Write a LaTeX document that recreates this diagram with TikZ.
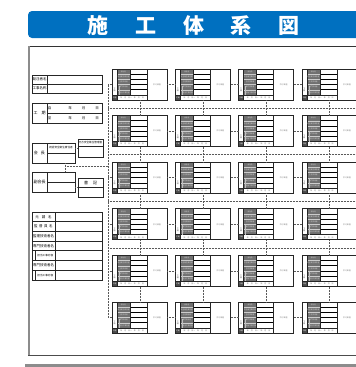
\documentclass[tikz,border=0pt]{standalone}
\usepackage{fontspec}
\newfontfamily\jp{Noto Sans CJK JP}
\usetikzlibrary{calc, positioning}
\definecolor{bannerblue}{RGB}{0,112,192}
\definecolor{cellgray}{RGB}{112,112,112}

\tikzset{
  boxline/.style={draw=black!85, line width=0.75pt},
  unitline/.style={draw=black!85, line width=0.65pt},
  rowline/.style={draw=black, line width=0.85pt},
  link/.style={draw=black!65, line width=0.5pt, dash pattern=on 0.6pt off 0.9pt},
  lbl/.style={font=\jp\fontsize{3.5}{3.5}\selectfont, inner sep=0pt},
  biglbl/.style={font=\jp\fontsize{4}{4}\selectfont, inner sep=0pt},
  smalllbl/.style={font=\jp\fontsize{2.6}{2.6}\selectfont, inner sep=0pt},
  celltext/.style={font=\jp\fontsize{1.7}{1.7}\selectfont, text=white!85!black, inner sep=0pt},
  tinytext/.style={font=\jp\fontsize{1.9}{1.9}\selectfont, text=black!60, inner sep=0pt},
  unitnode/.style={minimum width=55pt, minimum height=31pt, inner sep=0pt},
  titletext/.style={font=\jp\bfseries\fontsize{21}{21}\selectfont, text=white, inner sep=0pt},
}

\begin{document}
\begin{tikzpicture}[x=1pt, y=-1pt]
\useasboundingbox (0,0) rectangle (356,367);
\clip (0,0) rectangle (356,367);

% Title banner
\fill[bannerblue, rounded corners=4pt] (28,11) rectangle (390,38);
\node[titletext] (title) at (193.7,25.3)
  {施\hspace{26.7pt}工\hspace{26.7pt}体\hspace{26.7pt}系\hspace{26.7pt}図};

% Outer frame
\draw[line width=0.8pt, black!80] (28,46.5) -- (390,46.5);
\draw[line width=0.9pt, black!70] (28,355) -- (390,355);
\draw[line width=2.2pt, black!45] (28.6,46) -- (28.6,355.4);
\fill[black!45] (25,363.5) rectangle (390,368);

% Project header
\draw[boxline] (32,75) rectangle (102,93);
\draw[boxline] (32,84) -- (102,84) (47,75) -- (47,93);
\node[lbl] (ordername) at (39.5,79.5) {発注者名};
\node[lbl] (worksname) at (39.5,88.5) {工事名称};

% Term
\draw[boxline] (32,103) rectangle (102,123);
\draw[boxline] (47,113) -- (102,113) (47,103) -- (47,123);
\node[biglbl] (termlbl) at (39.5,113) {工\hspace{4pt}期};
\foreach \yy/\ch in {108/自, 118/至}{
  \node[lbl] (d\yy) at (49.5,\yy) {\ch};
  \node[lbl] (y\yy) at (70,\yy) {年};
  \node[lbl] (m\yy) at (83.5,\yy) {月};
  \node[lbl] (e\yy) at (97,\yy) {日};
}

% Council boxes
\draw[boxline] (32,143) rectangle (75,163);
\draw[boxline] (47,153) -- (75,153) (47,143) -- (47,163);
\node[biglbl] (chairlbl) at (39.5,153) {会\hspace{3pt}長};
\node[smalllbl] (chairrole) at (61,148) {統括安全衛生責任者};
\node[inner sep=0pt, minimum width=43pt, minimum height=20pt] (chair) at (53.5,153) {};

\draw[boxline] (78,139) rectangle (103,157);
\draw[boxline] (78,146) -- (103,146);
\node[smalllbl] (managerlbl) at (90.5,142.5) {元方安全衛生管理者};
\node[inner sep=0pt, minimum width=25pt, minimum height=18pt] (manager) at (90.5,148) {};

\draw[boxline] (32,172) rectangle (75,192);
\draw[boxline] (47,182) -- (75,182) (47,172) -- (47,192);
\node[biglbl] (vicelbl) at (39.5,182) {副会長};
\node[inner sep=0pt, minimum width=43pt, minimum height=20pt] (vice) at (53.5,182) {};

\draw[boxline] (78,178) rectangle (103,197);
\draw[boxline] (78,187) -- (103,187);
\node[biglbl] (clerklbl) at (90.5,182.5) {書\hspace{5pt}記};
\node[inner sep=0pt, minimum width=25pt, minimum height=19pt] (clerk) at (90.5,187.5) {};

% Prime contractor table
\draw[boxline] (32,212) rectangle (102,280);
\foreach \k in {1,...,6}
  \draw[boxline] (32,{212+9.714*\k}) -- (102,{212+9.714*\k});
\draw[boxline] (55,212) -- (55,280);
\foreach \t [count=\k] in {元\hspace{3pt}請\hspace{3pt}名, 監\hspace{1.5pt}督\hspace{1.5pt}員\hspace{1.5pt}名,
    監理技術者名, 専門技術者名, , 専門技術者名, }
  \node[lbl] (prime\k) at (43.5,{212+9.714*\k-4.857}) {\t};
\foreach \k in {5,7}{
  \draw[boxline] (35.5,{212+9.714*(\k-1)}) -- (35.5,{212+9.714*\k});
  \node[smalllbl] (work\k) at (45.3,{212+9.714*\k-4.857}) {担当工事内容};
}

% Subcontractor units
\foreach \r in {0,...,5}{
  \foreach \c in {0,...,3}{
    \begin{scope}[shift={({112+63.3*\c},{69+46.6*\r})}]
      \fill[cellgray] (5,0) rectangle (18,26);
      \fill[black!70] (0,26) rectangle (5,31);
      \foreach \k in {1,...,4}{
        \draw[white!80!black, line width=0.3pt] (5,5.2*\k) -- (18,5.2*\k);
        \draw[rowline] (18,5.2*\k) -- (35,5.2*\k);
      }
      \draw[unitline] (0,26) -- (35,26) (5,0) -- (5,31) (18,0) -- (18,26) (35,0) -- (35,31);
      \draw[white!75!black, line width=0.3pt] (7,5.2*3+1) -- (7,26);
      \draw[unitline] (0,0) rectangle (55,31);
      \foreach \t [count=\k] in {会社名, 安全衛生責任者, 主任技術者, 専門技術者, 担当工事内容}
        \node[celltext] (u\r\c-l\k) at ({\k==5 ? 12.5 : 11.5},{5.2*\k-2.6}) {\t};
      \node[tinytext, align=center, text=black!70] (u\r\c-side) at (2.5,21) {下\\請};
      \node[celltext, text=white] (u\r\c-term) at (2.5,28.5) {工期};
      \node[tinytext] (u\r\c-date) at (20,28.5) {年\hspace{2pt}月\hspace{2pt}日～\hspace{2pt}年\hspace{2pt}月\hspace{2pt}日};
      \node[tinytext, text=black!45] (u\r\c-trade) at (45,15.5) {許可業種};
      \node[unitnode] (u\r\c) at (27.5,15.5) {};
    \end{scope}
  }
}

% Connectors
\coordinate (trunktop) at (108,84.5);
\coordinate (trunkbot) at (108,317.5);
\draw[link] (trunktop) -- (trunkbot);
\foreach \r in {0,...,5}{
  \draw[link] (u\r0.west -| trunktop) -- (u\r0.west);
  \foreach \c/\n in {0/1, 1/2, 2/3}
    \draw[link] (u\r\c.east) -- (u\r\n.west);
}
\foreach \r/\s in {0/1, 1/2, 2/3, 3/4, 4/5}
  \foreach \c in {0,...,3}
    \draw[link] ($(u\r\c.south west)+(28,0)$) -- ($(u\s\c.north west)+(28,0)$);
\foreach \r in {0,...,3}
  \draw[link] (108,{108+46.6*\r}) -- (390,{108+46.6*\r});

\coordinate (councilknee) at (65,166);
\draw[link] (chair.south -| councilknee) -- (vice.north -| councilknee);
\draw[link] (councilknee) -- (councilknee -| trunktop);
\draw[link] (chair.east |- manager.center) -- (manager.west);
\draw[link] (vice.east |- clerk.center) -- (clerk.west);
\end{tikzpicture}
\end{document}
